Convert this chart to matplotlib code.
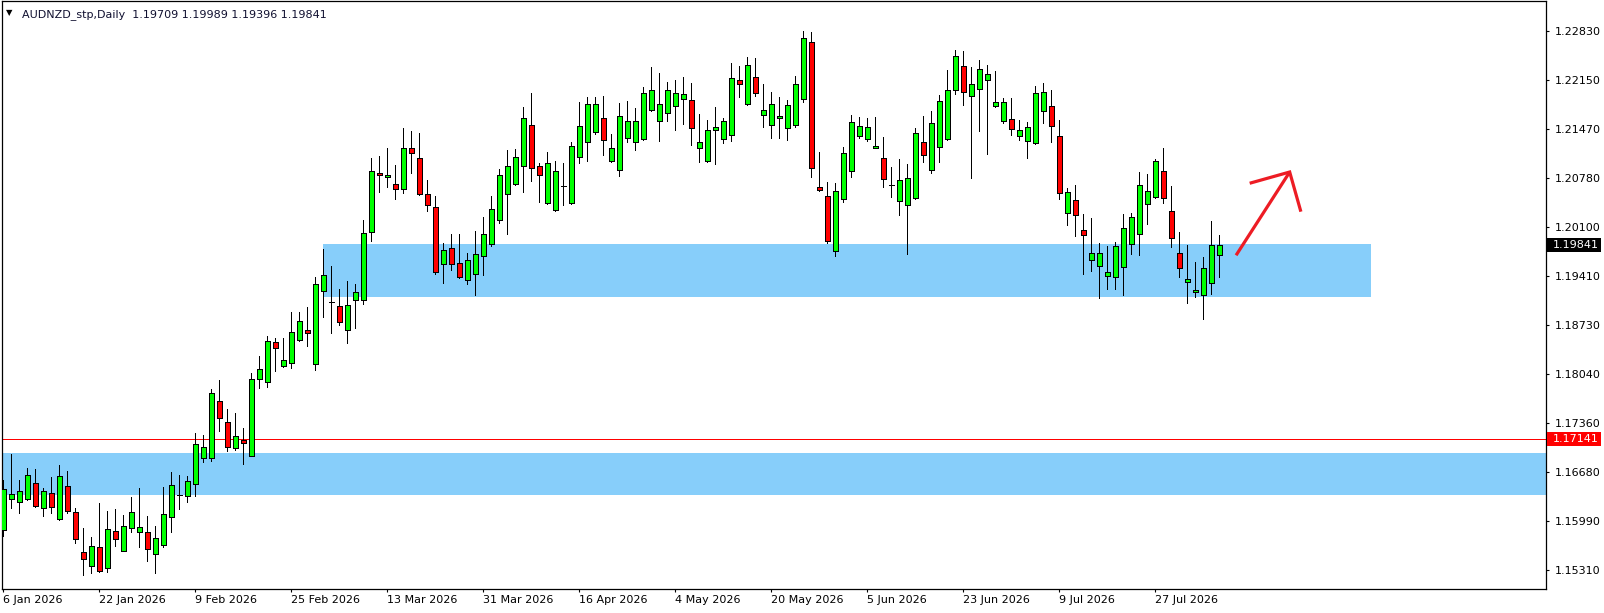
import matplotlib
matplotlib.use("Agg")
import matplotlib.pyplot as plt
import matplotlib.transforms as mtransforms
from matplotlib.patches import Rectangle
import numpy as np

# AUDNZD_stp daily candles (one per weekday, starting 6 Jan 2026)
opens = [1.15859, 1.16292, 1.16250, 1.16292, 1.16516, 1.16166, 1.16376, 1.16013, 1.16474, 1.16110,
         1.15552, 1.15356, 1.15621, 1.15328, 1.15845, 1.15566, 1.15887, 1.15831, 1.15831, 1.15524,
         1.15649, 1.16041, 1.16348, 1.16334, 1.16502, 1.16865, 1.16873, 1.17661, 1.17368, 1.17005,
         1.17116, 1.16901, 1.17968, 1.17935, 1.18485, 1.18150, 1.18192, 1.18513, 1.18653, 1.18178,
         1.19198, 1.19051, 1.18988, 1.18653, 1.19072, 1.19072, 1.20022, 1.20846, 1.20790, 1.20693,
         1.20623, 1.21196, 1.21056, 1.20553, 1.20371, 1.19575, 1.19799, 1.19589, 1.19351, 1.19435,
         1.19687, 1.19854, 1.20190, 1.20553, 1.20693, 1.20944, 1.21517, 1.20944, 1.20427, 1.20329,
         1.20665, 1.20427, 1.21070, 1.21279, 1.21419, 1.21615, 1.21014, 1.20888, 1.21335, 1.21279,
         1.21321, 1.21726, 1.21573, 1.21684, 1.21782, 1.21880, 1.21866, 1.21196, 1.21014, 1.21447,
         1.21321, 1.21377, 1.22145, 1.21810, 1.22188, 1.21656, 1.21517, 1.21615, 1.21475, 1.21517,
         1.21880, 1.22676, 1.20651, 1.20525, 1.19757, 1.20483, 1.20874, 1.21363, 1.21321, 1.21196,
         1.21056, 1.20679, 1.20455, 1.20399, 1.20497, 1.21279, 1.20888, 1.21210, 1.21321, 1.22006,
         1.22341, 1.21922, 1.22020, 1.22145, 1.21782, 1.21573, 1.21601, 1.21363, 1.21293, 1.21265,
         1.21712, 1.21782, 1.21363, 1.20287, 1.20469, 1.20050, 1.19631, 1.19547, 1.19407, 1.19393,
         1.19533, 1.19854, 1.19994, 1.20413, 1.20511, 1.20874, 1.20315, 1.19729, 1.19323, 1.19184,
         1.19142, 1.19309, 1.19709]
highs = [1.16562, 1.16925, 1.16562, 1.16729, 1.16715, 1.16450, 1.16604, 1.16771, 1.16687, 1.16166,
         1.15887, 1.15765, 1.16236, 1.16128, 1.16156, 1.16068, 1.16324, 1.16450, 1.16059, 1.15919,
         1.16460, 1.16669, 1.16627, 1.16613, 1.17214, 1.17186, 1.17829, 1.17959, 1.17553, 1.17498,
         1.17288, 1.18052, 1.18294, 1.18574, 1.18545, 1.18545, 1.18909, 1.18909, 1.18978, 1.19393,
         1.19784, 1.19547, 1.19226, 1.19337, 1.19296, 1.20194, 1.21056, 1.21084, 1.21196, 1.20958,
         1.21475, 1.21433, 1.21405, 1.20749, 1.20525, 1.19868, 1.19994, 1.19994, 1.19729, 1.20036,
         1.20232, 1.20525, 1.20902, 1.21168, 1.21182, 1.21768, 1.21964, 1.20986, 1.21140, 1.21014,
         1.20986, 1.21279, 1.21838, 1.21908, 1.21908, 1.21922, 1.21391, 1.21824, 1.21852, 1.21754,
         1.22048, 1.22325, 1.22243, 1.22118, 1.22146, 1.22188, 1.22104, 1.21670, 1.21587, 1.21768,
         1.21615, 1.22383, 1.22341, 1.22467, 1.22453, 1.22090, 1.21978, 1.21908, 1.21866, 1.22201,
         1.22830, 1.22816, 1.21140, 1.20721, 1.20707, 1.21210, 1.21656, 1.21628, 1.21615, 1.21628,
         1.21349, 1.20930, 1.21042, 1.20972, 1.21475, 1.21643, 1.21712, 1.21936, 1.22285, 1.22565,
         1.22551, 1.22327, 1.22425, 1.22355, 1.22271, 1.21894, 1.21894, 1.21587, 1.21559, 1.22062,
         1.22104, 1.22006, 1.21587, 1.20637, 1.20679, 1.20273, 1.20218, 1.19868, 1.19826, 1.19882,
         1.20273, 1.20287, 1.20860, 1.20832, 1.21042, 1.21196, 1.20665, 1.20022, 1.19840, 1.19603,
         1.19673, 1.20176, 1.19989]
lows = [1.15784, 1.16175, 1.16105, 1.16282, 1.16185, 1.16063, 1.16105, 1.15999, 1.16096, 1.15677,
        1.15230, 1.15258, 1.15276, 1.15272, 1.15643, 1.15566, 1.15831, 1.15621, 1.15434, 1.15258,
        1.15621, 1.15839, 1.16152, 1.16250, 1.16334, 1.16813, 1.16827, 1.17250, 1.16971, 1.16985,
        1.16785, 1.16895, 1.17851, 1.17865, 1.18088, 1.18140, 1.18122, 1.18503, 1.18438, 1.18094,
        1.18843, 1.18611, 1.18723, 1.18471, 1.18681, 1.19016, 1.19905, 1.20581, 1.20651, 1.20483,
        1.20567, 1.20846, 1.20543, 1.20315, 1.19435, 1.19309, 1.19491, 1.19383, 1.19296, 1.19142,
        1.19421, 1.19826, 1.20148, 1.19994, 1.20683, 1.20581, 1.20735, 1.20452, 1.20413, 1.20320,
        1.20399, 1.20417, 1.20986, 1.21014, 1.21391, 1.21098, 1.21004, 1.20804, 1.21279, 1.21168,
        1.21307, 1.21717, 1.21293, 1.21573, 1.21447, 1.21531, 1.21237, 1.21000, 1.21004, 1.20972,
        1.21265, 1.21293, 1.21908, 1.21800, 1.21922, 1.21489, 1.21335, 1.21335, 1.21307, 1.21489,
        1.21838, 1.20790, 1.20599, 1.19868, 1.19691, 1.20441, 1.20790, 1.21335, 1.21293, 1.21193,
        1.20651, 1.20511, 1.20259, 1.19715, 1.20487, 1.21000, 1.20846, 1.21000, 1.21311, 1.21950,
        1.21796, 1.20776, 1.21433, 1.21112, 1.21779, 1.21545, 1.21377, 1.21307, 1.21056, 1.21258,
        1.21545, 1.21279, 1.20483, 1.20120, 1.19966, 1.19435, 1.19477, 1.19104, 1.19226, 1.19226,
        1.19142, 1.19715, 1.19701, 1.20134, 1.20504, 1.20427, 1.19813, 1.19393, 1.19030, 1.19114,
        1.18806, 1.19156, 1.19396]
closes = [1.16432, 1.16362, 1.16404, 1.16627, 1.16194, 1.16404, 1.16180, 1.16613, 1.16124, 1.15733,
          1.15454, 1.15635, 1.15286, 1.15873, 1.15733, 1.15915, 1.16110, 1.15901, 1.15594, 1.15747,
          1.16082, 1.16488, 1.16348, 1.16544, 1.17060, 1.17018, 1.17773, 1.17424, 1.17018, 1.17172,
          1.17074, 1.17968, 1.18108, 1.18499, 1.18401, 1.18234, 1.18625, 1.18779, 1.18611, 1.19296,
          1.19421, 1.19051, 1.18765, 1.19002, 1.19184, 1.20008, 1.20874, 1.20818, 1.20818, 1.20623,
          1.21196, 1.21126, 1.20553, 1.20399, 1.19463, 1.19771, 1.19575, 1.19393, 1.19631, 1.19715,
          1.19994, 1.20343, 1.20818, 1.20944, 1.21070, 1.21615, 1.20916, 1.20818, 1.20986, 1.20874,
          1.20665, 1.21224, 1.21503, 1.21810, 1.21810, 1.21307, 1.21196, 1.21643, 1.21573, 1.21573,
          1.21964, 1.22006, 1.21810, 1.22006, 1.21964, 1.21950, 1.21475, 1.21279, 1.21447, 1.21489,
          1.21573, 1.22173, 1.22089, 1.22355, 1.21964, 1.21726, 1.21810, 1.21643, 1.21796, 1.22089,
          1.22732, 1.20916, 1.20609, 1.19896, 1.20595, 1.21126, 1.21559, 1.21503, 1.21489, 1.21224,
          1.20763, 1.20679, 1.20749, 1.20777, 1.21405, 1.21098, 1.21545, 1.21852, 1.22006, 1.22481,
          1.21978, 1.22089, 1.22299, 1.22229, 1.21838, 1.21838, 1.21461, 1.21447, 1.21489, 1.21964,
          1.21978, 1.21503, 1.20567, 1.20581, 1.20259, 1.19980, 1.19729, 1.19729, 1.19463, 1.19826,
          1.20078, 1.20232, 1.20679, 1.20595, 1.21014, 1.20497, 1.19938, 1.19519, 1.19365, 1.19212,
          1.19519, 1.19840, 1.19841]

date_tick_bars = [0, 12, 24, 36, 48, 60, 72, 84, 96, 108, 120, 132, 144]
date_tick_labels = ['6 Jan 2026', '22 Jan 2026', '9 Feb 2026', '25 Feb 2026', '13 Mar 2026',
                    '31 Mar 2026', '16 Apr 2026', '4 May 2026', '20 May 2026', '5 Jun 2026',
                    '23 Jun 2026', '9 Jul 2026', '27 Jul 2026']
price_ticks = [1.22830, 1.22150, 1.21470, 1.20780, 1.20100, 1.19410,
               1.18730, 1.18040, 1.17360, 1.16680, 1.15990, 1.15310]

# drawn objects
upper_zone = (1.19114, 1.19859)
upper_zone_bars = (40, 171)
lower_zone = (1.16352, 1.16939)
level_price = 1.17141
last_price = 1.19841
arrow_shaft_x = [154.1, 160.8]
arrow_shaft_y = [1.19701, 1.20864]
arrow_head_x = [155.8, 160.8, 162.2]
arrow_head_y = [1.20707, 1.20864, 1.20310]

opens = np.array(opens)
highs = np.array(highs)
lows = np.array(lows)
closes = np.array(closes)
x = np.arange(len(opens))

W, H = 1604, 613
fig = plt.figure(figsize=(W / 100, H / 100), dpi=100)
fig.patch.set_facecolor('white')
# plot frame in pixels: left 2, right 1546, top 1, bottom 588.5
ax = fig.add_axes([2 / W, (H - 588.5) / H, 1544 / W, 587.5 / H])
ax.set_xlim(-0.16, 192.84)
ax.set_ylim(1.15046, 1.23253)
px_x = 1 / 1544  # one pixel in axes fraction
lw1 = 0.72       # one pixel at 100 dpi

xmin, xmax = ax.get_xlim()
ax.add_patch(Rectangle((upper_zone_bars[0], upper_zone[0]), upper_zone_bars[1] - upper_zone_bars[0],
                       upper_zone[1] - upper_zone[0], facecolor='#87cefa', edgecolor='none', zorder=1))
ax.add_patch(Rectangle((xmin, lower_zone[0]), xmax - xmin, lower_zone[1] - lower_zone[0],
                       facecolor='#87cefa', edgecolor='none', zorder=1))
ax.axhline(level_price, color='#ff0000', lw=lw1, zorder=2)

# candles
ax.vlines(x, lows, highs, color='black', lw=lw1, zorder=3, antialiased=False)
body_low = np.minimum(opens, closes)
body_h = np.abs(closes - opens)
colors = np.where(closes > opens, '#00ff00', np.where(closes < opens, '#ff0000', 'black'))
ax.bar(x, body_h, bottom=body_low, width=0.6, color=colors, edgecolor='black',
       linewidth=lw1, zorder=4, antialiased=False)
doji = closes == opens
ax.hlines(closes[doji], x[doji] - 0.3, x[doji] + 0.3, color='black', lw=lw1, zorder=5,
          antialiased=False)

# arrow
ax.plot(arrow_shaft_x, arrow_shaft_y, color='#ed1c24', lw=2.3, solid_capstyle='butt', zorder=6)
ax.plot(arrow_head_x, arrow_head_y, color='#ed1c24', lw=2.3, solid_capstyle='butt',
        solid_joinstyle='miter', zorder=6)

for s in ax.spines.values():
    s.set_color('black')
    s.set_linewidth(0.9)

ax.set_xticks(date_tick_bars)
ax.set_xticklabels(date_tick_labels, fontsize=8, ha='left')
ax.tick_params(axis='x', direction='out', length=2.5, width=0.8, pad=2.5, colors='black')

ax.yaxis.tick_right()
ax.set_yticks(price_ticks)
ax.set_yticklabels([f'{p:.5f}' for p in price_ticks], fontsize=8)
ax.tick_params(axis='y', direction='out', length=2.5, width=0.8, pad=3.5, colors='black')

# price tags on the scale
trans = mtransforms.blended_transform_factory(ax.transAxes, ax.transData)
tag_h = 0.00098
for price, bg in [(last_price, 'black'), (level_price, '#ff0000')]:
    ax.add_patch(Rectangle((1 + 1 * px_x, price - tag_h), 54 * px_x, 2 * tag_h, transform=trans,
                           facecolor=bg, edgecolor='none', clip_on=False, zorder=7))
    ax.text(1 + 7 * px_x, price, f'{price:.5f}', transform=trans, fontsize=8, color='white',
            va='center', ha='left', clip_on=False, zorder=8)

# header
fig.text(5.5 / W, 1 - 15.5 / H, '\u25bc', fontsize=6, color='black', va='baseline')
fig.text(22.5 / W, 1 - 16.7 / H, 'AUDNZD_stp,Daily  1.19709 1.19989 1.19396 1.19841',
         fontsize=8, color='#101030', va='baseline')

fig.savefig('out.png', dpi=100, facecolor='white')
